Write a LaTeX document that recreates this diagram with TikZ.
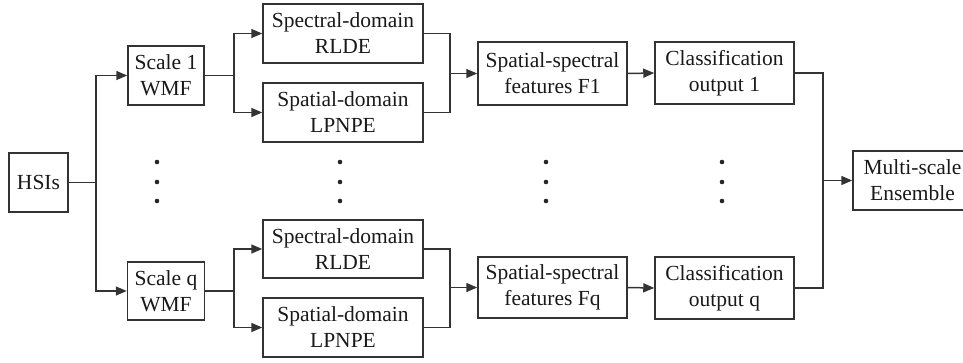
\documentclass[tikz,border=0pt]{standalone}
\usepackage{fontspec}
\setmainfont{Liberation Serif}
\usetikzlibrary{arrows.meta}
\definecolor{ln}{HTML}{333333}
\tikzset{
  box/.style={draw=ln, line width=1.5pt, align=center, inner sep=0pt,
    font=\fontsize{21.5pt}{26pt}\selectfont, text=black!90},
  conn/.style={draw=ln, line width=1.5pt},
  arr/.style={conn, -{Triangle[length=11pt,width=9pt]}},
  dotc/.style={fill=black!85, draw=none}
}
\begin{document}
\begin{tikzpicture}[x=1pt,y=-1pt]
\useasboundingbox (0,0) rectangle (963,362);
% boxes
\node[box, minimum width=59pt, minimum height=59pt] (hsi) at (38.5,182.5) {HSIs};
\node[box, minimum width=76pt, minimum height=59pt] (s1) at (166,75.5) {Scale 1\\WMF};
\node[box, minimum width=77pt, minimum height=58pt] (sq) at (166,291) {Scale q\\WMF};
\node[box, minimum width=160pt, minimum height=59pt] (spec1) at (343,33.5) {Spectral-domain\\RLDE};
\node[box, minimum width=160pt, minimum height=59pt] (spat1) at (343,112.5) {Spatial-domain\\LPNPE};
\node[box, minimum width=160pt, minimum height=58pt] (specq) at (343,249) {Spectral-domain\\RLDE};
\node[box, minimum width=160pt, minimum height=59pt] (spatq) at (343,327.5) {Spatial-domain\\LPNPE};
\node[box, minimum width=149pt, minimum height=63pt] (ss1) at (552.5,73.5) {Spatial-spectral\\features F1};
\node[box, minimum width=149pt, minimum height=61pt] (ssq) at (552.5,287.5) {Spatial-spectral\\features Fq};
\node[box, minimum width=139pt, minimum height=62pt] (c1) at (724.5,73) {Classification\\output 1};
\node[box, minimum width=139pt, minimum height=62pt] (cq) at (724.5,288) {Classification\\output q};
\node[box, minimum width=119pt, minimum height=59pt] (ens) at (912.5,180.5) {Multi-scale\\Ensemble};
% junction coordinates
\coordinate (j0) at (96,182.5);
\coordinate (j1) at (234,75.5);
\coordinate (jq) at (234,291);
\coordinate (m1) at (450,73.5);
\coordinate (mq) at (450,287.5);
\coordinate (je) at (823,180.5);
% connectors
\draw[conn] (hsi.east) -- (j0);
\draw[arr] (j0) |- (s1.west);
\draw[arr] (j0) |- (sq.west);
\draw[conn] (s1.east) -- (j1);
\draw[arr] (j1) |- (spec1.west);
\draw[arr] (j1) |- (spat1.west);
\draw[conn] (sq.east) -- (jq);
\draw[arr] (jq) |- (specq.west);
\draw[arr] (jq) |- (spatq.west);
\draw[conn] (spec1.east) -| (m1);
\draw[conn] (spat1.east) -| (m1);
\draw[arr] (m1) -- (ss1.west);
\draw[conn] (specq.east) -| (mq);
\draw[conn] (spatq.east) -| (mq);
\draw[arr] (mq) -- (ssq.west);
\draw[arr] (ss1.east) -- (c1.west);
\draw[arr] (ssq.east) -- (cq.west);
\draw[conn] (c1.east) -| (je);
\draw[conn] (cq.east) -| (je);
\draw[arr] (je) -- (ens.west);
% dots
\foreach \x in {157,340,546,722}{
  \foreach \y in {162,182,201}{
    \fill[dotc] (\x,\y) circle (2.3pt);
  }
}
\end{tikzpicture}
\end{document}
